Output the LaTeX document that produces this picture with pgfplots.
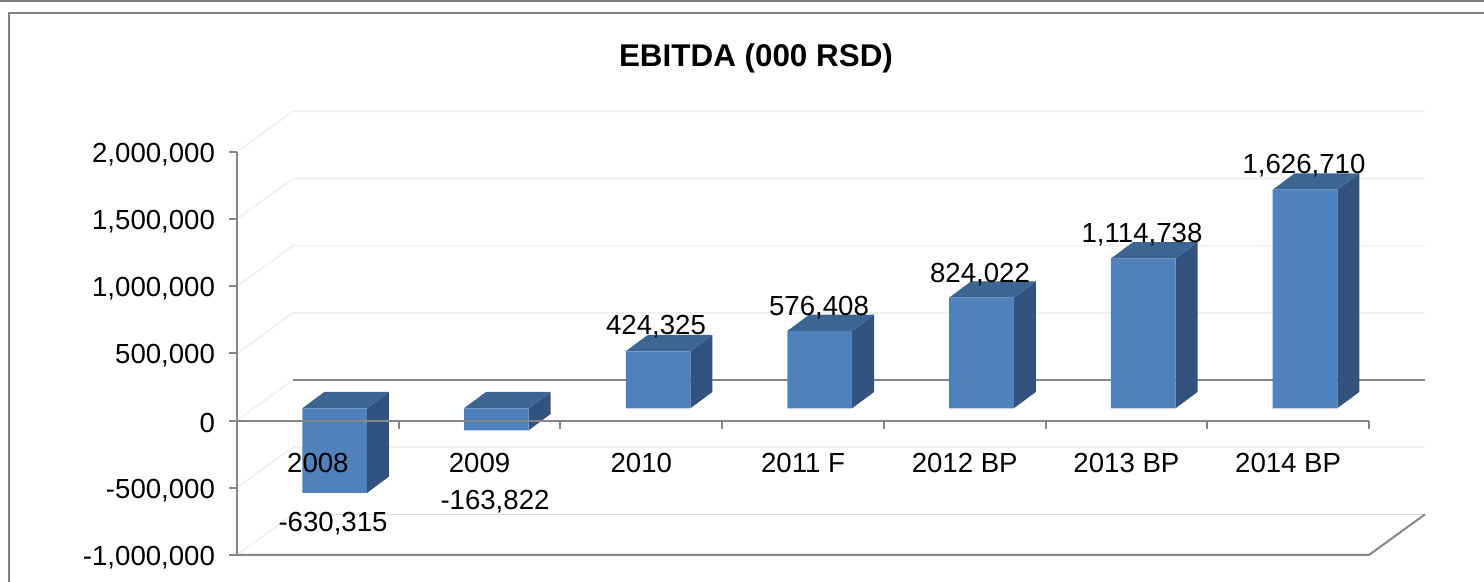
\documentclass[border=0pt]{standalone}
\usepackage{pgfplots}
\pgfplotsset{compat=1.18}
\usepackage{pgfplotstable}
\usepackage{fontspec}
\setmainfont{Liberation Sans}
\definecolor{axgray}{HTML}{868686}
\definecolor{gridc}{HTML}{EFEFEF}
\definecolor{floorc}{HTML}{D9D9D9}
\definecolor{framec}{HTML}{808080}
\definecolor{frontc}{HTML}{4F81BD}
\definecolor{topc}{HTML}{3D6591}
\definecolor{sidec}{HTML}{325380}
\pgfplotstableread{
x y
0 -630315
1 -163822
2 424325
3 576408
4 824022
5 1114738
6 1626710
}\ebitda
\pgfplotstableread{
x y lab
0.0937 -754300 -630,315
1.0954 -590600 -163,822
2.0910 712200 424,325
3.0990 853600 576,408
4.0946 1099300 824,022
5.0964 1397000 1,114,738
6.0982 1910700 1,626,710
}\labelpos
\begin{document}
\begin{tikzpicture}
\begin{axis}[
  at={(0,0)}, anchor=south west,
  scale only axis, width=566pt, height=201.5pt,
  xmin=-0.5, xmax=6.5, ymin=-1000000, ymax=2000000,
  clip=false,
  set layers=axis on top,
  axis on top,
  axis x line*=middle, axis y line*=left,
  hide obscured x ticks=false, hide obscured y ticks=false,
  axis line style={draw=axgray, line width=1pt, -},
  tick align=outside,
  major tick length=4pt,
  tick style={draw=axgray, line width=1pt},
  minor tick num=0,
  xtick={-0.5,0.5,1.5,2.5,3.5,4.5,5.5,6.5},
  x tick label as interval=true,
  xticklabels={2008,2009,2010,2011 F,2012 BP,2013 BP,2014 BP},
  xticklabel style={font=\fontsize{13.8}{16}\selectfont, yshift=-9pt, xshift=0pt},
  ytick={-1000000,-500000,0,500000,1000000,1500000,2000000},
  yticklabel style={font=\fontsize{13.8}{16}\selectfont, xshift=-3.5pt, yshift=-1.2pt,
    /pgf/number format/.cd, fixed, 1000 sep={,}, assume math mode=true},
  scaled y ticks=false,
  title={\bfseries EBITDA (000 RSD)},
  title style={at={(0.4585,1.2407)}, anchor=center, yshift=-7.5pt, font=\fontsize{15.7}{18}\selectfont},
  bar3d/.style={xshift=8.4pt, yshift=6.2pt, forget plot, draw=none},
]
% outer frame
\addplot[framec, line width=1.2pt, forget plot] coordinates {(-1.9656,3127000)(7.2113,3127000)};
\addplot[framec, line width=1.2pt, forget plot] coordinates {(7.2113,3034800)(-1.9099,3034800)(-1.9099,-1201000)};
% walls: gridlines
\addplot[gridc, line width=0.8pt, forget plot] coordinates {(-0.5,2000000)(-0.1537,2302750)(6.8463,2302750)};
\addplot[gridc, line width=0.8pt, forget plot] coordinates {(-0.5,1500000)(-0.1537,1802750)(6.8463,1802750)};
\addplot[gridc, line width=0.8pt, forget plot] coordinates {(-0.5,1000000)(-0.1537,1302750)(6.8463,1302750)};
\addplot[gridc, line width=0.8pt, forget plot] coordinates {(-0.5,500000)(-0.1537,802750)(6.8463,802750)};
\addplot[gridc, line width=0.8pt, forget plot] coordinates {(-0.5,0)(-0.1537,302750)};
\addplot[axgray, line width=1pt, forget plot] coordinates {(-0.1537,302750)(6.8463,302750)};
\addplot[gridc, line width=0.8pt, forget plot] coordinates {(-0.5,-500000)(-0.1537,-197250)(6.8463,-197250)};
\addplot[gridc, line width=0.8pt, forget plot] coordinates {(-0.5,-1000000)(-0.1537,-697250)};
\addplot[floorc, line width=0.8pt, forget plot] coordinates {(-0.1537,-697250)(6.8463,-697250)};
\addplot[axgray, line width=1pt, forget plot] coordinates {(-0.5,-1000000)(6.5,-1000000)(6.8463,-697250)};
% side faces
\addplot[bar3d, fill=sidec] coordinates {(0.2,-630315)(0.2,0)(0.336,121340)(0.336,-508975)} -- cycle;
\addplot[bar3d, fill=sidec] coordinates {(1.2,-163822)(1.2,0)(1.336,121340)(1.336,-42482)} -- cycle;
\addplot[bar3d, fill=sidec] coordinates {(2.2,0)(2.2,424325)(2.336,545665)(2.336,121340)} -- cycle;
\addplot[bar3d, fill=sidec] coordinates {(3.2,0)(3.2,576408)(3.336,697748)(3.336,121340)} -- cycle;
\addplot[bar3d, fill=sidec] coordinates {(4.2,0)(4.2,824022)(4.336,945362)(4.336,121340)} -- cycle;
\addplot[bar3d, fill=sidec] coordinates {(5.2,0)(5.2,1114738)(5.336,1236078)(5.336,121340)} -- cycle;
\addplot[bar3d, fill=sidec] coordinates {(6.2,0)(6.2,1626710)(6.336,1748050)(6.336,121340)} -- cycle;
% top faces
\addplot[bar3d, fill=topc] coordinates {(-0.2,0)(0.2,0)(0.336,121340)(-0.064,121340)} -- cycle;
\addplot[bar3d, fill=topc] coordinates {(0.8,0)(1.2,0)(1.336,121340)(0.936,121340)} -- cycle;
\addplot[bar3d, fill=topc] coordinates {(1.8,424325)(2.2,424325)(2.336,545665)(1.936,545665)} -- cycle;
\addplot[bar3d, fill=topc] coordinates {(2.8,576408)(3.2,576408)(3.336,697748)(2.936,697748)} -- cycle;
\addplot[bar3d, fill=topc] coordinates {(3.8,824022)(4.2,824022)(4.336,945362)(3.936,945362)} -- cycle;
\addplot[bar3d, fill=topc] coordinates {(4.8,1114738)(5.2,1114738)(5.336,1236078)(4.936,1236078)} -- cycle;
\addplot[bar3d, fill=topc] coordinates {(5.8,1626710)(6.2,1626710)(6.336,1748050)(5.936,1748050)} -- cycle;
% front faces: the data
\addplot[ybar, bar width=32.3pt, bar shift=0pt, fill=frontc, bar3d] table[x=x,y=y] {\ebitda};
% value labels
\addplot[draw=none, mark=none, forget plot,
  point meta=explicit symbolic,
  nodes near coords={\pgfplotspointmeta},
  every node near coord/.style={anchor=center, inner sep=0pt, yshift=-1pt, font=\fontsize{13.8}{16}\selectfont, text=black},
] table[x=x,y=y,meta=lab] {\labelpos};
\end{axis}
\pgfresetboundingbox
\path[use as bounding box] (-118.5pt,-13.5pt) rectangle (623.5pt,277.5pt);
\end{tikzpicture}
\end{document}
